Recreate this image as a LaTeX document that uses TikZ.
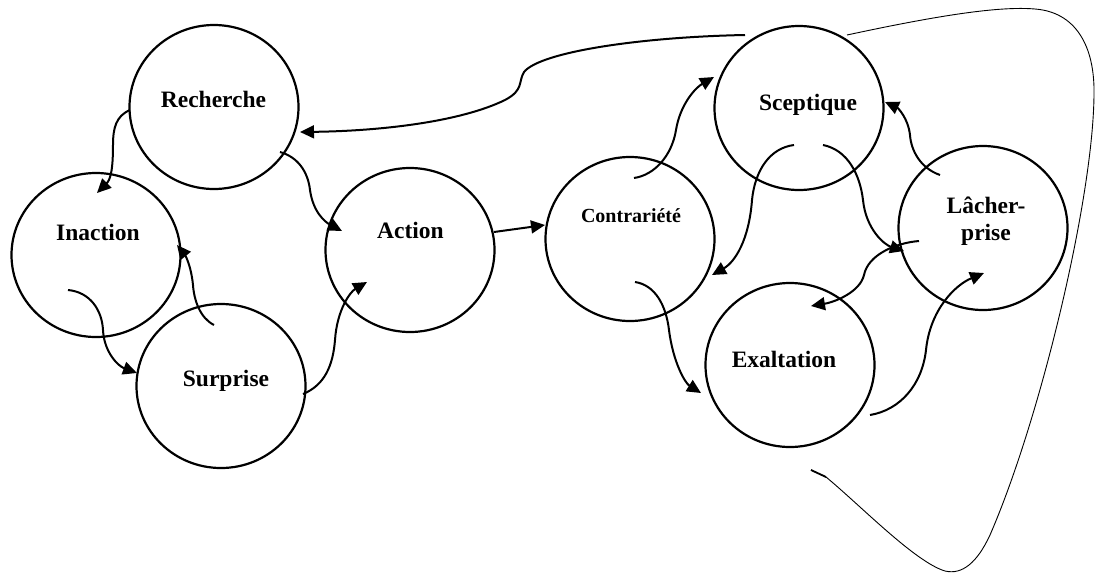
\documentclass[tikz,border=0pt]{standalone}
\usepackage{fontspec}
\setmainfont{Liberation Serif}
\usetikzlibrary{arrows.meta,shapes.geometric}
\begin{document}
\begin{tikzpicture}[x=1pt,y=-1pt,
  etat/.style={draw, ellipse, line width=2.2pt, minimum width=169pt, minimum height=164pt, inner sep=0pt},
  lbl/.style={anchor=base, font=\bfseries\fontsize{23.5}{27}\selectfont, inner sep=0pt},
  lblsmall/.style={anchor=base, font=\bfseries\fontsize{20}{24}\selectfont, inner sep=0pt},
  fleche/.style={line width=2pt, -{Triangle[length=14pt,width=13pt]}},
  contour/.style={line width=0.9pt}]
\useasboundingbox (0,0) rectangle (1095,574);

% states
\node[etat] (rech) at (214,107) {};
\node[etat] (inac) at (96,255) {};
\node[etat] (act) at (410,250) {};
\node[etat] (surp) at (221,386) {};
\node[etat] (contr) at (630,239) {};
\node[etat] (scep) at (799,108) {};
\node[etat] (lach) at (983,228) {};
\node[etat] (exal) at (790,365) {};

% labels
\node[lbl] (trech) at (213.5,107.3) {Recherche};
\node[lbl] (tinac) at (98,240) {Inaction};
\node[lbl] (tact) at (410.5,238) {Action};
\node[lbl] (tsurp) at (226,386) {Surprise};
\node[lblsmall] (tcontr) at (631,222) {Contrariété};
\node[lbl] (tscep) at (808,110) {Sceptique};
\node[lbl] (tlach1) at (986,213) {Lâcher-};
\node[lbl] (tlach2) at (986,240) {prise};
\node[lbl] (texal) at (784,367.7) {Exaltation};

% connector end points
\coordinate (a1s) at (130,110);  \coordinate (a1e) at (97,193);
\coordinate (a2s) at (280,152);  \coordinate (a2e) at (342,231);
\coordinate (a3s) at (68,290);   \coordinate (a3e) at (137,373);
\coordinate (a4s) at (214,325);  \coordinate (a4e) at (177,245);
\coordinate (a5s) at (303,394);  \coordinate (a5e) at (367,282);
\coordinate (a6s) at (494,232);  \coordinate (a6e) at (545,225);
\coordinate (a7s) at (745,35);   \coordinate (a7e) at (300,132);
\coordinate (a8s) at (634,178);  \coordinate (a8e) at (714,77);
\coordinate (a9s) at (794,145);  \coordinate (a9e) at (712,275);
\coordinate (a10s) at (635,282); \coordinate (a10e) at (701,393);
\coordinate (a11s) at (823,145); \coordinate (a11e) at (904,251);
\coordinate (a12s) at (940,175); \coordinate (a12e) at (885,102);
\coordinate (a13s) at (919,241); \coordinate (a13e) at (811,306);
\coordinate (a14s) at (870,415); \coordinate (a14e) at (984,273);
\coordinate (c1) at (847,35);    \coordinate (c2) at (811,470);

% connectors
\draw[fleche] (a1s) .. controls (116,116) and (113,128) .. (113,145) .. controls (113,172) and (110,180) .. (a1e);
\draw[fleche] (a2s) .. controls (298,157) and (308,172) .. (310,190) .. controls (313,212) and (325,222) .. (a2e);
\draw[fleche] (a3s) .. controls (90,292) and (102,310) .. (103,330) .. controls (104,352) and (118,366) .. (a3e);
\draw[fleche] (a4s) .. controls (200,318) and (194,300) .. (193,285) .. controls (191,265) and (185,255) .. (a4e);
\draw[fleche] (a5s) .. controls (325,385) and (333,365) .. (335,340) .. controls (337,310) and (350,292) .. (a5e);
\draw[fleche] (a6s) -- (a6e);
\draw[fleche] (a7s) .. controls (640,37) and (540,52) .. (524,72) .. controls (518,82) and (524,90) .. (505,100) .. controls (460,122) and (380,131) .. (a7e);
\draw[fleche] (a8s) .. controls (655,175) and (672,155) .. (676,130) .. controls (680,105) and (695,88) .. (a8e);
\draw[fleche] (a9s) .. controls (770,148) and (755,170) .. (752,200) .. controls (749,240) and (735,262) .. (a9e);
\draw[fleche] (a10s) .. controls (655,285) and (666,305) .. (669,330) .. controls (673,362) and (685,383) .. (a10e);
\draw[fleche] (a11s) .. controls (848,150) and (860,175) .. (863,200) .. controls (866,230) and (885,245) .. (a11e);
\draw[fleche] (a12s) .. controls (920,168) and (911,150) .. (910,135) .. controls (908,118) and (898,108) .. (a12e);
\draw[fleche] (a13s) .. controls (895,243) and (868,255) .. (864,275) .. controls (860,292) and (835,302) .. (a13e);
\draw[fleche] (a14s) .. controls (900,410) and (922,385) .. (926,350) .. controls (930,310) and (955,285) .. (a14e);

% outer contour
\draw[contour] (c1) .. controls (940,15) and (1000,6) .. (1035,9)
  .. controls (1075,12) and (1095,45) .. (1094,95)
  .. controls (1093,200) and (1040,420) .. (990,535)
  .. controls (977,563) and (962,575) .. (945,571)
  .. controls (915,562) and (860,505) .. (826,477)
  -- (c2);
\draw[line width=1.8pt] (826,477) -- (c2);
\end{tikzpicture}
\end{document}
